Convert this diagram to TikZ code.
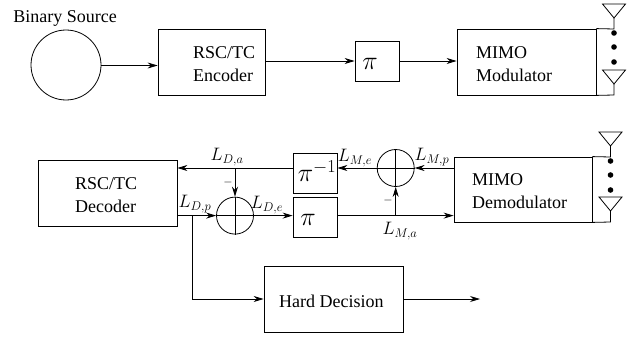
\documentclass[tikz,border=0pt]{standalone}
\usepackage{fix-cm}
\usepackage{amsmath,amssymb}
\usepackage{fontspec}
\setmainfont{Liberation Serif}
\usetikzlibrary{arrows.meta,positioning,calc}

\tikzset{
  block/.style={draw, line width=0.8pt, inner sep=0pt},
  boxtext/.style={inner sep=0pt, align=left, anchor=west},
  pitext/.style={inner sep=0pt, font=\fontsize{26}{30}\selectfont},
  sumnode/.style={draw, circle, line width=0.8pt, minimum size=37pt, inner sep=0pt},
  sig/.style={line width=0.8pt, -{Stealth[length=10pt,width=6pt]}},
  wire/.style={line width=0.8pt},
  lab/.style={font=\fontsize{18}{20}\selectfont, inner sep=0pt},
  minuslab/.style={font=\fontsize{12}{14}\selectfont, inner sep=0pt},
}
\newcommand{\antenna}[1]{%
  \draw[wire] ($(#1)+(-11.5,-14)$) -- ($(#1)+(11.5,-14)$) -- (#1) -- cycle;}

\begin{document}
\begin{tikzpicture}[x=1pt, y=-1pt, font=\fontsize{18}{23}\selectfont]
  \useasboundingbox (0,0) rectangle (628,337);

  % transmitter
  \node[draw, circle, line width=0.8pt, minimum size=70pt, inner sep=0pt] (source) at (66,65) {};
  \node[inner sep=0pt] (sourcelab) at (65,18) {Binary Source};
  \node[block, minimum width=107pt, minimum height=66pt] (encoder) at (211.5,62) {};
  \node[boxtext] (enctext) at (193,64) {RSC/TC\\Encoder};
  \node[block, minimum width=44pt, minimum height=40pt] (pitx) at (377,61) {};
  \node[pitext] (pitxtext) at (370,64) {$\pi$};
  \node[block, minimum width=139pt, minimum height=66pt] (mod) at (526.5,62) {};
  \node[boxtext] (modtext) at (476,64) {MIMO\\Modulator};

  \draw[sig] (source.east |- 0,65.5) -- (encoder.west |- 0,65.5);
  \draw[sig] (encoder.east |- pitx.west) -- (pitx.west);
  \draw[sig] (pitx.east) -- (mod.west |- pitx.east);

  % tx antennas
  \coordinate (ant1) at (614,18);
  \coordinate (ant2) at (614,84);
  \antenna{ant1}
  \antenna{ant2}
  \draw[wire] (mod.north east) -- (614,29) -- (ant1);
  \draw[wire] (mod.south east) -- (614,95) -- (ant2);
  \foreach \y in {33,47,62} \fill (614,\y) circle (2.8pt);

  % receiver
  \node[block, minimum width=139pt, minimum height=66pt] (decoder) at (107.5,193) {};
  \node[boxtext] (dectext) at (75,195) {RSC/TC\\Decoder};
  \node[block, minimum width=44pt, minimum height=40pt] (deint) at (315,173) {};
  \node[pitext] (deinttext) at (317,171) {$\pi^{-1}$};
  \node[block, minimum width=44pt, minimum height=40pt] (inter) at (315,217) {};
  \node[pitext] (intertext) at (308,220) {$\pi$};
  \node[block, minimum width=138pt, minimum height=65pt] (demod) at (523,189.5) {};
  \node[boxtext] (demodtext) at (472,191.5) {MIMO\\Demodulator};
  \node[sumnode] (sumd) at (235,215.6) {};
  \node[sumnode] (summ) at (395.7,168) {};
  \node[block, minimum width=139pt, minimum height=66pt] (hard) at (333.5,299) {};
  \node[boxtext] (hardtext) at (279,301) {Hard Decision};

  % rx antennas
  \coordinate (ant3) at (610.5,146);
  \coordinate (ant4) at (610.5,211);
  \antenna{ant3}
  \antenna{ant4}
  \draw[wire] (demod.north east) -- (610.5,157) -- (ant3);
  \draw[wire] (demod.south east) -- (610.5,222) -- (ant4);
  \foreach \y in {161,175,190} \fill (610.5,\y) circle (2.8pt);

  % plus signs
  \draw[wire] (sumd.north) -- (sumd.south);
  \draw[wire] (summ.north) -- (summ.south);

  \coordinate (tapd) at (sumd.north |- summ.west);
  \coordinate (tapm) at (summ.south |- sumd.east);
  \coordinate (tapb) at (192,215.6);
  \coordinate (out) at (480,299);

  \draw[sig] (demod.west |- summ.east) -- (summ.east);
  \draw[sig] (summ.east) -- (deint.east |- summ.west);
  \draw[sig] (deint.west |- summ.west) -- (decoder.east |- summ.west);
  \draw[sig] (tapd) -- (sumd.north);
  \draw[sig] (decoder.east |- sumd.west) -- (sumd.west);
  \draw[sig] (sumd.west) -- (inter.west |- sumd.west);
  \draw[sig] (inter.east |- sumd.east) -- (demod.west |- sumd.east);
  \draw[sig] (tapm) -- (summ.south);
  \draw[sig] (tapb) |- (hard.west);
  \draw[sig] (hard.east) -- (out);

  % labels
  \node[lab] (lda) at (227,157) {$L_{D,a}$};
  \node[lab] (ldp) at (195,204) {$L_{D,p}$};
  \node[lab] (lde) at (267,205) {$L_{D,e}$};
  \node[lab] (lme) at (355,158) {$L_{M,e}$};
  \node[lab] (lmp) at (432,157) {$L_{M,p}$};
  \node[lab] (lma) at (400,231) {$L_{M,a}$};
  \node[minuslab] (minusd) at (228,182) {$-$};
  \node[minuslab] (minusm) at (388,200) {$-$};
\end{tikzpicture}
\end{document}
